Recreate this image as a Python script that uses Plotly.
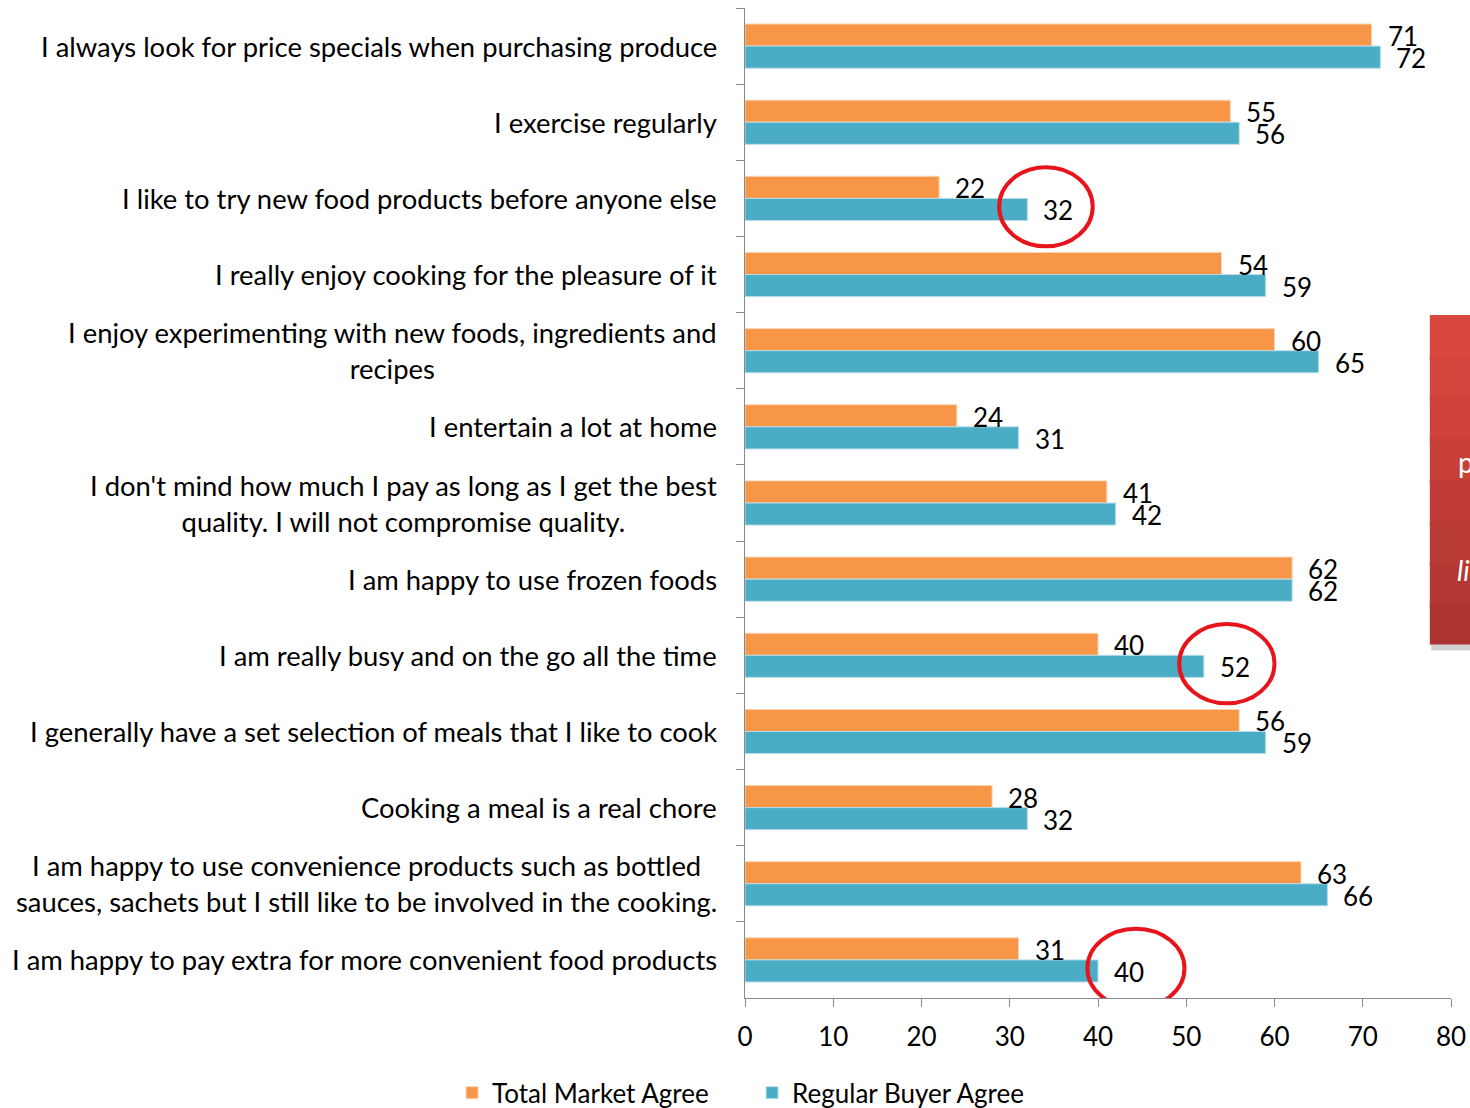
import plotly.graph_objects as go

# Survey statements (top to bottom) and agreement percentages
categories = [
    "I always look for price specials when purchasing produce",
    "I exercise regularly",
    "I like to try new food products before anyone else",
    "I really enjoy cooking for the pleasure of it",
    "I enjoy experimenting with new foods, ingredients and<br>recipes",
    "I entertain a lot at home",
    "I don't mind how much I pay as long as I get the best<br>quality. I will not compromise quality.",
    "I am happy to use frozen foods",
    "I am really busy and on the go all the time",
    "I generally have a set selection of meals that I like to cook",
    "Cooking a meal is a real chore",
    "I am happy to use convenience products such as bottled<br>sauces, sachets but I still like to be involved in the cooking.",
    "I am happy to pay extra for more convenient food products",
]
total_market = [71, 55, 22, 54, 60, 24, 41, 62, 40, 56, 28, 63, 31]
regular_buyer = [72, 56, 32, 59, 65, 31, 42, 62, 52, 59, 32, 66, 40]

x_ticks = [0, 10, 20, 30, 40, 50, 60, 70, 80]

# Highlighted rows: (row index, x from, x to) for the red ellipses
highlights = [(2, 28.8, 39.4), (8, 49.2, 60.0), (12, 38.8, 49.8)]

ORANGE = "#F79646"
BLUE = "#4BACC6"
FONT = "Lato"
AXIS_GREY = "#898989"

fig = go.Figure()
fig.add_trace(go.Bar(
    name="Total Market Agree", y=categories, x=total_market, orientation="h",
    marker=dict(color=ORANGE, line=dict(color="#FBD4B4", width=1)),
))
fig.add_trace(go.Bar(
    name="Regular Buyer Agree", y=categories, x=regular_buyer, orientation="h",
    marker=dict(color=BLUE, line=dict(color="#B7DDE8", width=1)),
))

annotations = []
# value labels at bar ends
for cat, v in zip(categories, total_market):
    annotations.append(dict(x=v, y=cat, xref="x", yref="y", text=str(v),
                            showarrow=False, xanchor="left", xshift=14, yshift=10,
                            font=dict(family=FONT, size=26, color="#000000")))
for cat, v in zip(categories, regular_buyer):
    annotations.append(dict(x=v, y=cat, xref="x", yref="y", text=str(v),
                            showarrow=False, xanchor="left", xshift=14, yshift=-12,
                            font=dict(family=FONT, size=26, color="#000000")))
# statement labels, right-aligned block with centred lines
for cat in categories:
    annotations.append(dict(x=0, y=cat, xref="paper", yref="y",
                            text="<span style='font-size:27.4px'>%s</span>" % cat,
                            showarrow=False, xanchor="right", xshift=-26,
                            align="center",
                            font=dict(family=FONT, size=28, color="#000000")))

# partially visible callout box at the right edge
shapes = [
    dict(type="rect", xref="paper", yref="paper", x0=0.972, x1=1.05, y0=0.351, y1=0.684,
         fillcolor="#9a9a9a", opacity=0.45, line=dict(width=0), layer="above"),
]
box_bands = ["#d9483f", "#d4453d", "#ce423b", "#c83f39", "#c13c37", "#ba3a35", "#b33733", "#ab3431"]
n = len(box_bands)
top, bottom = 0.690, 0.357
for i, c in enumerate(box_bands):
    y1 = top - (top - bottom) * i / n
    y0 = max(bottom, top - (top - bottom) * (i + 1) / n - 0.004)
    shapes.append(dict(type="rect", xref="paper", yref="paper", x0=0.970, x1=1.05,
                       y0=y0, y1=y1, fillcolor=c, line=dict(width=0), layer="above"))
annotations.append(dict(x=1.0075, y=0.541, xref="paper", yref="paper", text="p",
                        showarrow=False, xanchor="left",
                        font=dict(family=FONT, size=28, color="white")))
annotations.append(dict(x=1.005, y=0.432, xref="paper", yref="paper", text="<i>li</i>",
                        showarrow=False, xanchor="left",
                        font=dict(family=FONT, size=28, color="white")))

for idx, x0, x1 in highlights:
    shapes.append(dict(type="circle", xref="x", yref="y", x0=x0, x1=x1,
                       y0=idx - 0.41, y1=idx + 0.63,
                       line=dict(color="#E8141B", width=4), layer="above"))

fig.update_layout(
    width=1470, height=1108,
    margin=dict(l=745, r=19, t=8, b=110, autoexpand=False),
    paper_bgcolor="white", plot_bgcolor="white",
    barmode="group", bargap=0.42, bargroupgap=0,
    font=dict(family=FONT, size=26, color="#000000"),
    xaxis=dict(range=[0, 80], tickvals=x_ticks, showgrid=False, zeroline=False,
               showline=True, linecolor=AXIS_GREY, linewidth=1,
               ticks="outside", ticklen=8, tickcolor=AXIS_GREY, ticklabelstandoff=8,
               tickfont=dict(family=FONT, size=26, color="#000000")),
    yaxis=dict(type="category", range=[12.5, -0.5], showticklabels=False,
               showgrid=False, zeroline=False, showline=True, linecolor=AXIS_GREY,
               linewidth=1, ticks="outside", ticklen=8, tickcolor=AXIS_GREY,
               tickson="boundaries"),
    legend=dict(orientation="h", x=0.010, xanchor="center", y=-0.072, yanchor="top",
                font=dict(family=FONT, size=26, color="#000000"),
                traceorder="normal", itemwidth=30,
                entrywidth=255, entrywidthmode="pixels"),
    annotations=annotations,
    shapes=shapes,
)

fig.write_html("out.html")
